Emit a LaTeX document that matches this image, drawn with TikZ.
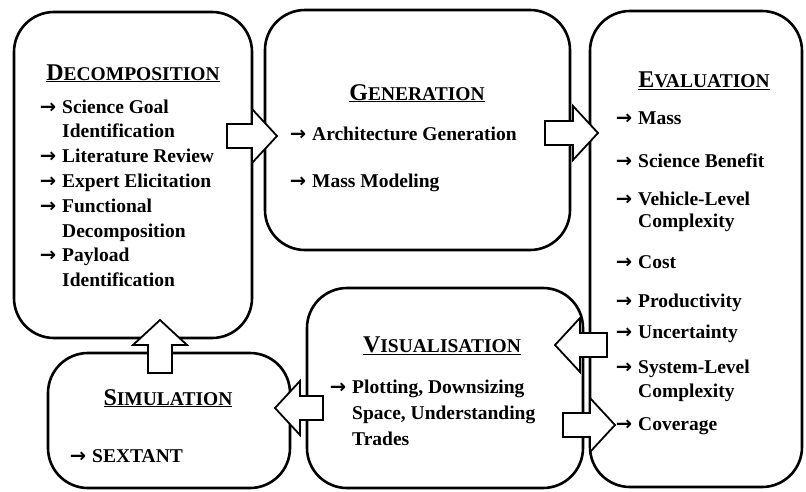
\documentclass[tikz,border=0pt]{standalone}
\usepackage{fontspec}
\setmainfont{Liberation Serif}
\newfontfamily\arfont{DejaVu Sans}
\usetikzlibrary{positioning}

% small caps heading, first letter large
\newcommand{\hd}[2]{\underline{{\fontsize{24}{24}\selectfont #1}#2}}
\newcommand{\ar}{\llap{{\arfont\bfseries →}\hspace{6pt}}}

\begin{document}
\begin{tikzpicture}[x=1pt, y=-1pt,
  stage/.style={draw, line width=2.6pt, rounded corners=40pt},
  flow/.style={draw, fill=white, line width=1.8pt, line join=miter},
  title/.style={anchor=base, inner sep=0pt, font=\bfseries\fontsize{19.5}{24}\selectfont},
  items/.style={anchor=base west, align=left, inner sep=0pt, font=\bfseries\fontsize{19.5}{24.8}\selectfont}]

\useasboundingbox (0,0) rectangle (806,491);

% the five stages
\node[stage, minimum width=238pt, minimum height=326pt] (decomp) at (133,175) {};
\node[stage, minimum width=305pt, minimum height=240pt] (gen) at (417.5,130) {};
\node[stage, minimum width=212pt, minimum height=476pt] (eval) at (696,249) {};
\node[stage, minimum width=242pt, minimum height=135pt] (sim) at (169,420.5) {};
\node[stage, minimum width=276pt, minimum height=200pt] (vis) at (445,388) {};

% block arrows: tip x / tip y / direction / length
\foreach \tx/\ty/\ang/\len in {277/136/0/50, 598/133/0/53, 555/345/180/52,
                               615/425/0/52, 275/408/180/48, 160/320/90/53}
  \draw[flow, shift={(\tx,\ty)}, rotate=\ang] (0,0) -- (-25,27) -- (-25,12)
    -- (-\len,12) -- (-\len,-12) -- (-25,-12) -- (-25,-27) -- cycle;

% Decomposition (multi-line nodes sit on their last baseline)
\node[title] (decomptitle) at (133,80) {\hd{D}{ECOMPOSITION}};
\node[items] (decomplist) at (62,286.6) {\ar Science Goal\\Identification\\
  \ar Literature Review\\\ar Expert Elicitation\\\ar Functional\\Decomposition\\
  \ar Payload\\Identification};

% Generation
\node[title] (gentitle) at (417,100) {\hd{G}{ENERATION}};
\node[items] (genarch) at (312,140) {\ar Architecture Generation};
\node[items] (genmass) at (312,187) {\ar Mass Modeling};

% Evaluation
\node[title] (evaltitle) at (704,87) {\hd{E}{VALUATION}};
\node[items] (evmass) at (638,124) {\ar Mass};
\node[items] (evsci) at (638,167) {\ar Science Benefit};
\node[items, font=\bfseries\fontsize{19.5}{22}\selectfont] (evveh) at (638,227) {\ar Vehicle-Level\\Complexity};
\node[items] (evcost) at (638,268) {\ar Cost};
\node[items] (evprod) at (638,307) {\ar Productivity};
\node[items] (evunc) at (638,338) {\ar Uncertainty};
\node[items, font=\bfseries\fontsize{19.5}{24}\selectfont] (evsys) at (638,397) {\ar System-Level\\Complexity};
\node[items] (evcov) at (638,430) {\ar Coverage};

% Simulation
\node[title] (simtitle) at (168,405) {\hd{S}{IMULATION}};
\node[items] (simlist) at (92,462) {\ar SEXTANT};

% Visualisation
\node[title] (vistitle) at (442,352) {\hd{V}{ISUALISATION}};
\node[items, font=\bfseries\fontsize{19.5}{26}\selectfont] (vislist) at (352,445)
  {\ar Plotting, Downsizing\\Space, Understanding\\Trades};

\end{tikzpicture}
\end{document}
